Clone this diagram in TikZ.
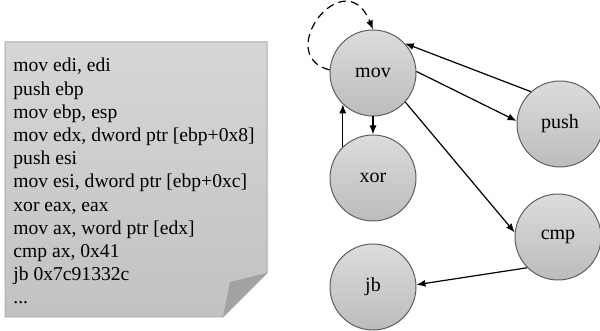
\documentclass[tikz,border=0pt]{standalone}
\usepackage{fontspec}
\setmainfont{Liberation Serif}
\usepackage{xcolor}
\usepackage{tikz}
\usetikzlibrary{shapes,arrows,positioning,calc,arrows.meta}

\definecolor{notetop}{HTML}{D6D6D6}
\definecolor{notebot}{HTML}{C2C2C2}
\definecolor{noteline}{HTML}{AAAAAA}
\definecolor{foldgray}{HTML}{A2A2A2}
\definecolor{optop}{HTML}{DCDCDC}
\definecolor{opbot}{HTML}{BCBCBC}
\definecolor{opline}{HTML}{5E5E5E}

\begin{document}
\begin{tikzpicture}[x=0.5pt, y=-0.5pt,
    op/.style={circle, draw=opline, line width=0.5pt, top color=optop, bottom color=opbot,
               minimum size=43pt, inner sep=0pt, font=\fontsize{10}{11.7}\selectfont},
    flow/.style={-{Latex[length=4.5pt,width=3.5pt]}, line width=0.6pt}]
    \useasboundingbox (0,0) rectangle (600,331);

    % Code listing on a note
    \shade[top color=notetop, bottom color=notebot, draw=noteline, line width=0.5pt]
        (5,42) -- (267,42) -- (267,273) -- (223,317) -- (5,317) -- cycle;
    \fill[foldgray] (267,273) -- (230,282) -- (223,317) -- cycle;
    \node[anchor=north west, inner sep=0pt, align=left, font=\fontsize{9.8}{11.6}\selectfont] (code) at (13,58)
        {mov edi, edi\\push ebp\\mov ebp, esp\\mov edx, dword ptr [ebp+0x8]\\push esi\\
         mov esi, dword ptr [ebp+0xc]\\xor eax, eax\\mov ax, word ptr [edx]\\cmp ax, 0x41\\
         jb 0x7c91332c\\...};

    % Opcode graph
    \node[op] (mov)  at (373,73)  {mov};
    \node[op] (xor)  at (373,178) {xor};
    \node[op] (jb)   at (373,287) {jb};
    \node[op] (push) at (560,124) {push};
    \node[op] (cmp)  at (558,237) {cmp};

    \draw[flow, dashed, dash pattern=on 4pt off 2.5pt] (mov.176) .. controls (272,55) and (345,-40) .. (mov.90);
    \draw[flow] (push.132) -- (mov.43);
    \draw[flow] (mov.2) -- (push.176);
    \draw[flow] (mov.south) -- (xor.north);
    \draw[flow] (xor.134) -- (xor.134 |- mov.226);
    \draw[flow] (mov.318) -- (cmp.174);
    \draw[flow] (cmp.225) -- (jb.3);
\end{tikzpicture}
\end{document}
